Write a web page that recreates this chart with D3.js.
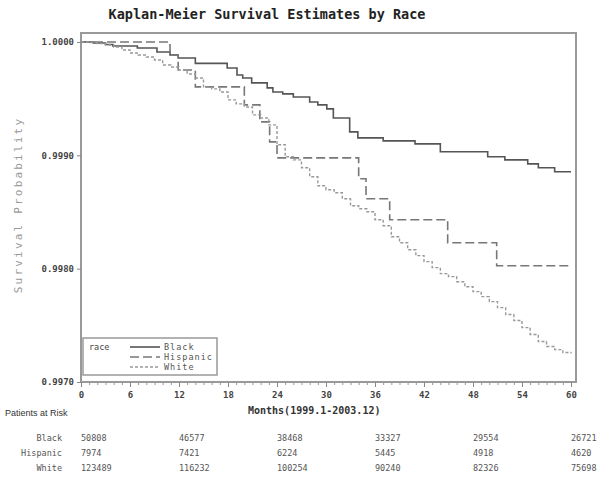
<!DOCTYPE html>
<html><head><meta charset="utf-8">
<script src="https://cdn.jsdelivr.net/npm/d3@7"></script>
<style>body{margin:0;background:#fff}svg{display:block}</style>
</head><body>
<script>
// ---- data ----
const seriesNames = ["Black", "Hispanic", "White"];
const blackData = [[0,1.0],[1.5,0.999991],[3,0.999978],[3.9,0.999965],[6.9,0.999947],[9.3,0.999912],[10.9,0.999885],[11.9,0.999859],[14.0,0.999811],[17.9,0.999771],[19.1,0.999709],[19.8,0.999683],[20.9,0.999639],[22.8,0.999595],[23.5,0.999559],[24.7,0.999542],[26.0,0.999515],[28.0,0.999471],[29.0,0.999445],[30.1,0.999410],[30.9,0.999330],[32.9,0.999207],[33.9,0.999154],[37.0,0.999128],[40.9,0.999101],[44.0,0.999031],[49.8,0.998987],[51.9,0.998960],[54.7,0.998925],[56.0,0.998890],[58.0,0.998855],[60,0.998855]];
const hispanicData = [[0,1.0],[10.9,0.999885],[11.9,0.999753],[14.0,0.999604],[20.0,0.999445],[21.9,0.999295],[23.1,0.999119],[24.0,0.998978],[34.0,0.998793],[34.9,0.998617],[37.8,0.998432],[44.9,0.998229],[50.9,0.998026],[60,0.998026]];
const whiteData = [[0,1.0],[1,0.999996],[2,0.999987],[3,0.999974],[4,0.999956],[5,0.999930],[6,0.999903],[7,0.999885],[8,0.999868],[9,0.999841],[10,0.999797],[11,0.999780],[12,0.999753],[13,0.999718],[14,0.999683],[15,0.999604],[16,0.999586],[17,0.999559],[18,0.999489],[19,0.999454],[20,0.999427],[21,0.999357],[22,0.999330],[23,0.999269],[24,0.999093],[25,0.998987],[26,0.998960],[27,0.998890],[28,0.998811],[29,0.998731],[30,0.998696],[31,0.998670],[32,0.998617],[33,0.998555],[34,0.998529],[35,0.998502],[36,0.998432],[37,0.998379],[38,0.998282],[39,0.998229],[40,0.998167],[41,0.998115],[42,0.998062],[43,0.998009],[44,0.997956],[45,0.997930],[46,0.997885],[47,0.997841],[48,0.997797],[49,0.997753],[50,0.997709],[51,0.997656],[52,0.997595],[53,0.997542],[54,0.997480],[55,0.997419],[56,0.997357],[57,0.997313],[58,0.997286],[59,0.997260],[60,0.997251]];
const xTicks = [0,6,12,18,24,30,36,42,48,54,60];
const yTicks = [0.9970,0.9980,0.9990,1.0000];
const riskMonths = [0,12,24,36,48,60];
const riskBlack = [50808,46577,38468,33327,29554,26721];
const riskHispanic = [7974,7421,6224,5445,4918,4620];
const riskWhite = [123489,116232,100254,90240,82326,75698];

const W = 601, H = 482;
const svg = d3.select("body").append("svg").attr("width", W).attr("height", H);
const mono = "DejaVu Sans Mono, monospace";

const x = d3.scaleLinear().domain([0,60]).range([81,571]);
const y = d3.scaleLinear().domain([0.9970,1.0000]).range([382,42]);

// title
svg.append("text").attr("x", 267).attr("y", 19).attr("text-anchor","middle")
  .attr("font-family", mono).attr("font-weight","bold").attr("font-size",13.5)
  .attr("fill","#222").text("Kaplan-Meier Survival Estimates by Race");

// frame
svg.append("rect").attr("x",81).attr("y",33).attr("width",495).attr("height",349)
  .attr("fill","none").attr("stroke","#999").attr("stroke-width",2);

// y axis
const yAxis = d3.axisLeft(y).tickValues(yTicks).tickFormat(d3.format(".4f")).tickSize(4).tickPadding(3);
const gy = svg.append("g").attr("transform","translate(81,0)").call(yAxis);
gy.select(".domain").remove();
gy.selectAll("line").attr("stroke","#888");
gy.selectAll("text").attr("font-family",mono).attr("font-size",9).attr("fill","#444").attr("font-weight","bold");

// x axis minor + major
const xMinor = d3.axisBottom(x).ticks(60).tickValues(d3.range(0,61)).tickSize(3).tickFormat("");
const gxm = svg.append("g").attr("transform","translate(0,382)").call(xMinor);
gxm.select(".domain").remove();
gxm.selectAll("line").attr("stroke","#999");
const xAxis = d3.axisBottom(x).tickValues(xTicks).tickSize(5).tickPadding(5);
const gx = svg.append("g").attr("transform","translate(0,382)").call(xAxis);
gx.select(".domain").remove();
gx.selectAll("line").attr("stroke","#888");
gx.selectAll("text").attr("font-family",mono).attr("font-size",9).attr("fill","#444").attr("font-weight","bold");

// axis labels
svg.append("text").attr("transform","translate(22,205) rotate(-90)").attr("text-anchor","middle")
  .attr("font-family",mono).attr("font-size",11).attr("letter-spacing",2.2).attr("fill","#999")
  .text("Survival Probability");
svg.append("text").attr("x",248).attr("y",414)
  .attr("font-family",mono).attr("font-weight","bold").attr("font-size",10).attr("fill","#333")
  .text("Months(1999.1-2003.12)");

// curves
const line = d3.line().x(d=>x(d[0])).y(d=>y(d[1])).curve(d3.curveStepAfter);
const styles = {
  Black: {data: blackData, color:"#555", dash:null, w:1.6},
  Hispanic: {data: hispanicData, color:"#777", dash:"9,4", w:1.6},
  White: {data: whiteData, color:"#999", dash:"3,2", w:1.4}
};
seriesNames.forEach(n=>{
  const s = styles[n];
  svg.append("path").datum(s.data).attr("d",line).attr("fill","none")
    .attr("stroke",s.color).attr("stroke-width",s.w).attr("stroke-dasharray",s.dash);
});

// legend
svg.append("rect").attr("x",83).attr("y",338).attr("width",134).attr("height",37)
  .attr("fill","#fff").attr("stroke","#999").attr("stroke-width",1.5);
svg.append("text").attr("x",89).attr("y",350).attr("font-family",mono).attr("font-size",8.5)
  .attr("fill","#444").text("race");
seriesNames.forEach((n,i)=>{
  const s = styles[n];
  const yy = 347 + i*10;
  svg.append("line").attr("x1",130).attr("x2",160).attr("y1",yy).attr("y2",yy)
    .attr("stroke",s.color).attr("stroke-width",s.w).attr("stroke-dasharray",s.dash);
  svg.append("text").attr("x",164).attr("y",yy+3).attr("font-family",mono).attr("font-size",8.5)
    .attr("fill","#555").attr("letter-spacing",1).text(n);
});

// patients at risk
svg.append("text").attr("x",5).attr("y",416).attr("font-family","Liberation Sans, Arial, sans-serif")
  .attr("font-size",9).attr("fill","#333").text("Patients at Risk");
const riskRows = [["Black",riskBlack],["Hispanic",riskHispanic],["White",riskWhite]];
riskRows.forEach(([name,vals],i)=>{
  const yy = 441 + i*15;
  svg.append("text").attr("x",62).attr("y",yy).attr("text-anchor","end")
    .attr("font-family",mono).attr("font-size",8.5).attr("fill","#555").text(name);
  vals.forEach((v,j)=>{
    svg.append("text").attr("x",x(riskMonths[j])).attr("y",yy)
      .attr("font-family",mono).attr("font-size",8.5).attr("fill","#555").text(v);
  });
});
</script>
</body></html>
